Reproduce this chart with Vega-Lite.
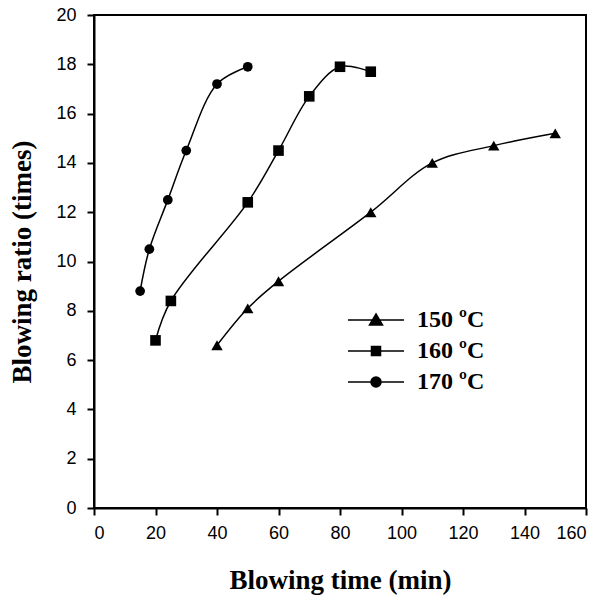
{
  "$schema": "https://vega.github.io/schema/vega-lite/v6.json",
  "autosize": "none",
  "width": 492,
  "height": 493,
  "padding": {"left": 94, "top": 15, "right": 16, "bottom": 91},
  "background": "white",
  "config": {
    "view": {"stroke": "black", "strokeWidth": 2},
    "axis": {
      "grid": false,
      "domainColor": "black",
      "domainWidth": 2,
      "tickColor": "black",
      "tickWidth": 2,
      "tickSize": 7,
      "labelColor": "black",
      "labelFont": "Liberation Sans",
      "labelFontSize": 18,
      "titleFont": "Liberation Serif",
      "titleFontSize": 27,
      "titleFontWeight": "bold",
      "titleColor": "black"
    }
  },
  "data": {
    "values": [
      {"temp": "150 ºC", "time": 40, "ratio": 6.6},
      {"temp": "150 ºC", "time": 50, "ratio": 8.1},
      {"temp": "150 ºC", "time": 60, "ratio": 9.2},
      {"temp": "150 ºC", "time": 90, "ratio": 12.0},
      {"temp": "150 ºC", "time": 110, "ratio": 14.0},
      {"temp": "150 ºC", "time": 130, "ratio": 14.7},
      {"temp": "150 ºC", "time": 150, "ratio": 15.2},
      {"temp": "160 ºC", "time": 20, "ratio": 6.8},
      {"temp": "160 ºC", "time": 25, "ratio": 8.4},
      {"temp": "160 ºC", "time": 50, "ratio": 12.4},
      {"temp": "160 ºC", "time": 60, "ratio": 14.5},
      {"temp": "160 ºC", "time": 70, "ratio": 16.7},
      {"temp": "160 ºC", "time": 80, "ratio": 17.9},
      {"temp": "160 ºC", "time": 90, "ratio": 17.7},
      {"temp": "170 ºC", "time": 15, "ratio": 8.8},
      {"temp": "170 ºC", "time": 18, "ratio": 10.5},
      {"temp": "170 ºC", "time": 24, "ratio": 12.5},
      {"temp": "170 ºC", "time": 30, "ratio": 14.5},
      {"temp": "170 ºC", "time": 40, "ratio": 17.2},
      {"temp": "170 ºC", "time": 50, "ratio": 17.9}
    ]
  },
  "encoding": {
    "x": {
      "field": "time", "type": "quantitative",
      "scale": {"domain": [0, 160], "nice": false},
      "axis": {"values": [0, 20, 40, 60, 80, 100, 120, 140, 160], "title": "Blowing time (min)", "labelPadding": 9, "titlePadding": 25}
    },
    "y": {
      "field": "ratio", "type": "quantitative",
      "scale": {"domain": [0, 20], "nice": false},
      "axis": {"values": [0, 2, 4, 6, 8, 10, 12, 14, 16, 18, 20], "title": "Blowing ratio (times)", "labelPadding": 11, "titlePadding": 19}
    }
  },
  "layer": [
    {
      "mark": {"type": "line", "interpolate": "catmull-rom", "color": "black", "strokeWidth": 1.5},
      "encoding": {"detail": {"field": "temp"}}
    },
    {
      "mark": {"type": "point", "filled": true, "color": "black", "opacity": 1},
      "encoding": {
        "shape": {
          "field": "temp", "type": "nominal",
          "scale": {"domain": ["150 ºC", "160 ºC", "170 ºC"], "range": ["triangle-up", "square", "circle"]},
          "legend": null
        },
        "size": {
          "field": "temp", "type": "nominal",
          "scale": {"domain": ["150 ºC", "160 ºC", "170 ºC"], "range": [130, 95, 90]},
          "legend": null
        }
      }
    },
    {
      "transform": [{"filter": "false"}],
      "mark": {"type": "point", "filled": false, "color": "black", "strokeWidth": 1.5, "opacity": 1},
      "encoding": {
        "shape": {
          "field": "temp", "type": "nominal",
          "scale": {
            "domain": ["150 ºC", "160 ºC", "170 ºC"],
            "range": [
              "M-2.8,0H2.8M0,-0.6L0.65,0.5L-0.65,0.5ZM0,-0.45L0.52,0.43L-0.52,0.43ZM0,-0.31L0.39,0.35L-0.39,0.35ZM0,-0.16L0.26,0.28L-0.26,0.28ZM0,-0.01L0.13,0.21L-0.13,0.21Z",
              "M-2.8,0H2.8M-0.45,-0.45H0.45V0.45H-0.45ZM-0.35,-0.35H0.35V0.35H-0.35ZM-0.25,-0.25H0.25V0.25H-0.25ZM-0.15,-0.15H0.15V0.15H-0.15ZM-0.05,-0.05H0.05V0.05H-0.05Z",
              "M-2.8,0H2.8M-0.5,0A0.5,0.5,0,1,0,0.5,0A0.5,0.5,0,1,0,-0.5,0ZM-0.4,0A0.4,0.4,0,1,0,0.4,0A0.4,0.4,0,1,0,-0.4,0ZM-0.3,0A0.3,0.3,0,1,0,0.3,0A0.3,0.3,0,1,0,-0.3,0ZM-0.2,0A0.2,0.2,0,1,0,0.2,0A0.2,0.2,0,1,0,-0.2,0ZM-0.1,0A0.1,0.1,0,1,0,0.1,0A0.1,0.1,0,1,0,-0.1,0Z"
            ]
          },
          "legend": {
            "title": null,
            "orient": "none",
            "legendX": 270,
            "legendY": 293,
            "symbolSize": 400,
            "symbolStrokeColor": "black",
            "symbolStrokeWidth": 1.5,
            "symbolOpacity": 1,
            "labelOffset": 29,
            "rowPadding": 7,
            "labelFont": "Liberation Serif",
            "labelFontSize": 24,
            "labelFontWeight": "bold",
            "labelColor": "black"
          }
        }
      }
    }
  ],
  "resolve": {"scale": {"shape": "independent", "size": "independent"}, "legend": {"shape": "independent"}}
}
